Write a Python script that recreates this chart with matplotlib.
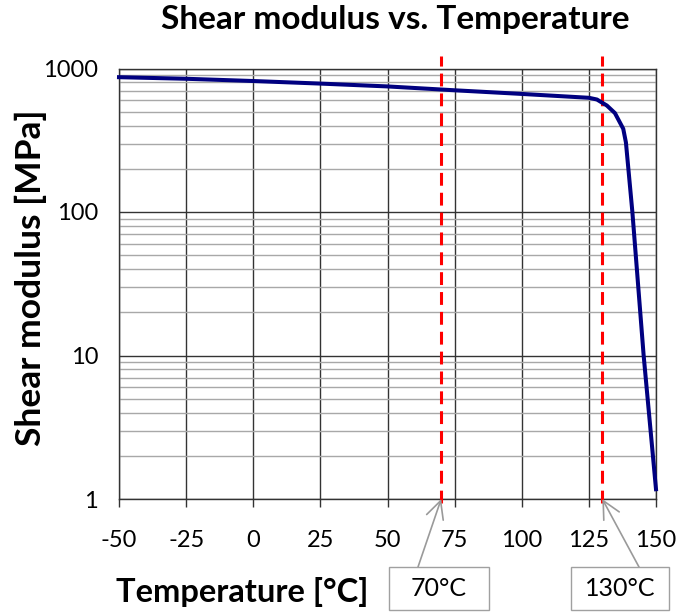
import matplotlib
matplotlib.use("Agg")
import matplotlib.pyplot as plt
from matplotlib.ticker import FixedLocator, LogLocator, NullFormatter

# Shear modulus [MPa] against temperature [°C]
temperature = [-50, -25, 0, 25, 50, 75, 100, 125, 128, 131.7, 134.7, 137.8, 138.8, 141.2, 145.4, 150]
modulus = [870, 848, 818, 785, 750, 705, 665, 625, 608, 552, 489, 380, 305, 100, 10, 1.17]

# Reference temperatures marked on the chart
marker_temps = [70, 130]
marker_labels = ["70°C", "130°C"]

x_ticks = [-50, -25, 0, 25, 50, 75, 100, 125, 150]
y_ticks = [1, 10, 100, 1000]

plt.rcParams["font.family"] = ["Lato", "DejaVu Sans"]

W, H = 678, 613
fig = plt.figure(figsize=(W / 100, H / 100), dpi=100)
ax = fig.add_axes([119 / W, 1 - 499 / H, (656 - 119) / W, (499 - 68.5) / H])

ax.set_yscale("log")
ax.set_xlim(-50, 150)
ax.set_ylim(1, 1000)

ax.xaxis.set_major_locator(FixedLocator(x_ticks))
ax.yaxis.set_major_locator(FixedLocator(y_ticks))
ax.yaxis.set_minor_locator(LogLocator(base=10, subs=range(2, 10)))
ax.yaxis.set_minor_formatter(NullFormatter())
ax.set_xticklabels([str(t) for t in x_ticks])
ax.set_yticklabels([str(t) for t in y_ticks])

ax.grid(which="major", axis="both", color="#333333", lw=1.0)
ax.grid(which="minor", axis="y", color="#a8a8a8", lw=1.0)
ax.set_axisbelow(True)

for s in ax.spines.values():
    s.set_color("#333333")
    s.set_linewidth(1.0)

ax.tick_params(axis="x", which="major", direction="out", length=6, width=1,
               color="#333333", labelsize=17, pad=16)
ax.tick_params(axis="y", which="both", length=0, labelsize=17, pad=15)

ax.plot(temperature, modulus, color="#000080", lw=2.9, solid_joinstyle="round",
        clip_on=False, zorder=4)

for t in marker_temps:
    ax.plot([t, t], [-0.009, 1.03], transform=ax.get_xaxis_transform(),
            color="#ff0000", lw=2.2, dashes=(4.2, 2.3), clip_on=False, zorder=3)

fig.text(395 / W, 1 - 20 / H, "Shear modulus vs. Temperature", ha="center",
         va="center", fontsize=24, fontweight="bold")
fig.text(242 / W, 1 - 592 / H, "Temperature [°C]", ha="center", va="center",
         fontsize=23.5, fontweight="bold")
fig.text(31 / W, 1 - 278 / H, "Shear modulus [MPa]", ha="center", va="center",
         rotation=90, fontsize=25.5, fontweight="bold")

# Callout boxes with arrows pointing at the marked temperatures
boxes = [(389, 489), (571, 669)]
arrow_starts = [418, 639]
for t, lab, (x0, x1), xs in zip(marker_temps, marker_labels, boxes, arrow_starts):
    rect = plt.Rectangle((x0 / W, 1 - 610 / H), (x1 - x0) / W, 43 / H,
                         transform=fig.transFigure, facecolor="white",
                         edgecolor="#a0a0a0", lw=1.0)
    fig.patches.append(rect)
    fig.text((x0 + x1) / 2 / W, 1 - 589 / H, lab, ha="center", va="center",
             fontsize=18)
    ax.annotate("", xy=(t, 1), xycoords="data",
                xytext=(xs / W, 1 - 567 / H), textcoords="figure fraction",
                arrowprops=dict(arrowstyle="->,head_length=0.7,head_width=0.35",
                                color="#9a9a9a", lw=1.2, shrinkA=0, shrinkB=0,
                                mutation_scale=18),
                annotation_clip=False)

fig.savefig("out.png", dpi=100)
